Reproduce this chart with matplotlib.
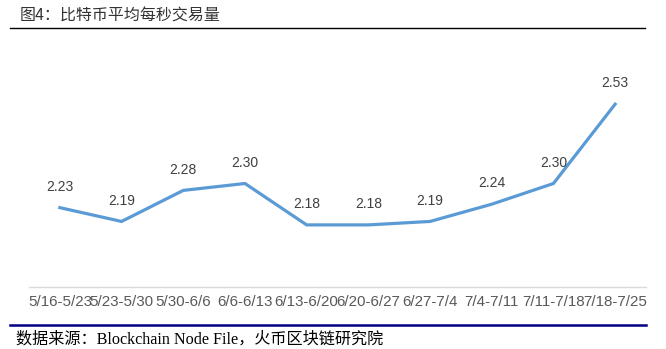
import matplotlib.pyplot as plt
from matplotlib.lines import Line2D

# weekly average transactions per second
weeks = ['5/16-5/23', '5/23-5/30', '5/30-6/6', '6/6-6/13', '6/13-6/20',
         '6/20-6/27', '6/27-7/4', '7/4-7/11', '7/11-7/18', '7/18-7/25']
tps = [2.23, 2.19, 2.28, 2.30, 2.18, 2.18, 2.19, 2.24, 2.30, 2.53]

title = '图4：比特币平均每秒交易量'
source = '数据来源：Blockchain Node File，火币区块链研究院'

fig = plt.figure(figsize=(6.66, 3.49), dpi=100)
ax = fig.add_axes([29 / 666, 62 / 349, 617 / 666, 207 / 349])

x = range(len(weeks))
ax.plot(x, tps, color='#5B9BD5', linewidth=2.3, solid_joinstyle='miter')
for xi, v in zip(x, tps):
    ax.annotate(f'{v:.2f}', (xi, v), xytext=(0, 15), textcoords='offset points',
                ha='center', va='center', fontsize=10, color='#404040',
                family='Liberation Sans')

ax.set_xlim(-0.5, len(weeks) - 0.5)
ax.set_ylim(2.0, 2.6)
ax.set_xticks(list(x))
ax.set_xticklabels(weeks, fontsize=10.9, color='#595959', family='Liberation Sans')
ax.tick_params(axis='x', length=0, pad=6)
ax.set_yticks([])
for side in ['top', 'left', 'right']:
    ax.spines[side].set_visible(False)
ax.spines['bottom'].set_color('#D9D9D9')
ax.spines['bottom'].set_linewidth(1.0)

# title and rules
fig.text(20 / 666, 1 - 16 / 349, title, fontsize=11.5, color='#333333',
         family=['Noto Sans CJK SC'], ha='left', va='center')
fig.add_artist(Line2D([10 / 666, 645 / 666], [1 - 28 / 349] * 2,
                      color='black', linewidth=1.0))
fig.add_artist(Line2D([10 / 666, 646 / 666], [1 - 324.5 / 349] * 2,
                      color='#000080', linewidth=1.8))
fig.text(16 / 666, 1 - 339 / 349, source, fontsize=11.6, color='black',
         family=['Liberation Serif', 'Noto Sans CJK SC'], ha='left', va='center')

fig.savefig('out.png', dpi=100)
